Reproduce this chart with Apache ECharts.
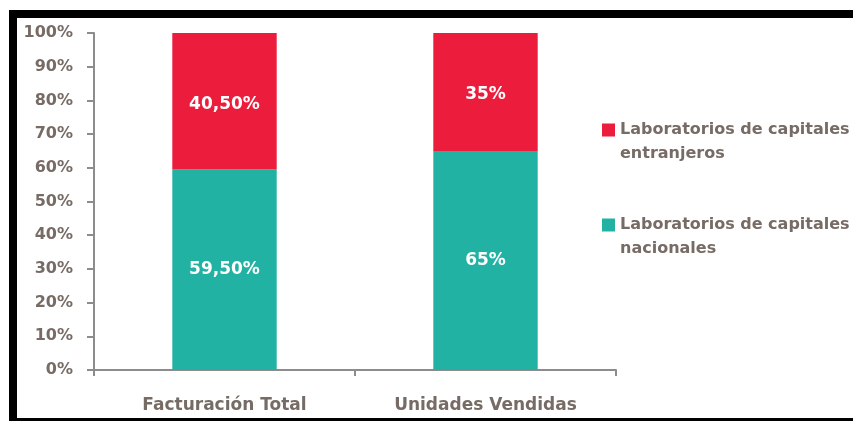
<!DOCTYPE html>
<html>
<head>
<meta charset="utf-8">
<script src="https://cdn.jsdelivr.net/npm/echarts@6/dist/echarts.min.js"></script>
<style>
  html, body { margin: 0; padding: 0; background: #fff; }
  #chart { position: absolute; left: 0; top: 0; width: 853px; height: 421px; }
  #frame {
    position: absolute; left: 9px; top: 10px; right: 0; bottom: 0;
    border-top: 8px solid #000; border-left: 8px solid #000; border-bottom: 3px solid #000;
    pointer-events: none;
  }
</style>
</head>
<body>
<div id="chart"></div>
<div id="frame"></div>
<script>
// data
var categories = ['Facturación Total', 'Unidades Vendidas'];
var nacionales = [59.5, 65];
var extranjeros = [40.5, 35];
var seriesNames = ['Laboratorios de capitales nacionales', 'Laboratorios de capitales entranjeros'];

var textColor = '#776b65';
var axisColor = '#8c8c8c';
var font = 'DejaVu Sans';

// 59.5 -> "59,50%", 65 -> "65%"
function pct(v) {
  return (v % 1 ? v.toFixed(2).replace('.', ',') : String(v)) + '%';
}

// leading blank line keeps the marker level with the first text line
function legendAt(name, top) {
  return {
    data: [name],
    orient: 'vertical',
    left: 597,
    top: top,
    itemWidth: 13,
    itemHeight: 13,
    itemGap: 0,
    icon: 'rect',
    selectedMode: false,
    formatter: function (n) {
      return ' \n' + n.replace('capitales ', 'capitales\n');
    },
    textStyle: {
      color: textColor,
      fontFamily: font,
      fontSize: 16,
      fontWeight: 'bold',
      lineHeight: 24
    }
  };
}

var chart = echarts.init(document.getElementById('chart'));
chart.setOption({
  animation: false,
  grid: { left: 94, right: 237, top: 33, bottom: 51, containLabel: false },
  legend: [
    legendAt(seriesNames[1], 89),
    legendAt(seriesNames[0], 184)
  ],
  xAxis: {
    type: 'category',
    data: categories,
    axisLine: { lineStyle: { color: axisColor, width: 2 } },
    axisTick: { show: true, length: 6, lineStyle: { color: axisColor, width: 2 } },
    axisLabel: { color: textColor, fontFamily: font, fontSize: 17, fontWeight: 'bold', margin: 27 }
  },
  yAxis: {
    type: 'value',
    min: 0,
    max: 100,
    interval: 10,
    axisLine: { show: true, lineStyle: { color: axisColor, width: 2 } },
    axisTick: { show: true, length: 7, lineStyle: { color: axisColor, width: 2 } },
    splitLine: { show: false },
    axisLabel: {
      color: textColor, fontFamily: font, fontSize: 16, fontWeight: 'bold', margin: 21,
      formatter: '{value}%'
    }
  },
  series: [
    {
      name: seriesNames[0],
      type: 'bar',
      stack: 'total',
      barWidth: '40%',
      data: nacionales,
      itemStyle: { color: '#22b2a3' },
      label: {
        show: true, position: 'inside', color: '#fff',
        fontFamily: font, fontSize: 17, fontWeight: 'bold',
        formatter: function (p) { return pct(p.value); }
      }
    },
    {
      name: seriesNames[1],
      type: 'bar',
      stack: 'total',
      barWidth: '40%',
      data: extranjeros,
      itemStyle: { color: '#ec1c3c' },
      label: {
        show: true, position: 'inside', color: '#fff', offset: [0, 3],
        fontFamily: font, fontSize: 17, fontWeight: 'bold',
        formatter: function (p) { return pct(p.value); }
      }
    }
  ]
});
</script>
</body>
</html>
